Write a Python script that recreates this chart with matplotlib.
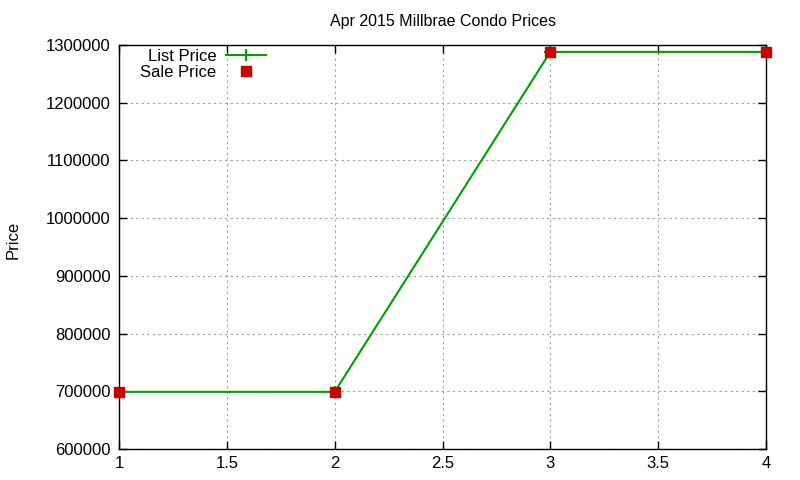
import matplotlib
matplotlib.use("Agg")
import matplotlib.pyplot as plt
from matplotlib.ticker import MultipleLocator, FuncFormatter

plt.rcParams['font.family'] = ['Liberation Sans', 'DejaVu Sans']

x = [1, 2, 3, 4]
list_price = [699000, 699000, 1288000, 1288000]
sale_price = [699000, 699000, 1288000, 1288000]

fig = plt.figure(figsize=(8, 4.8), dpi=100)
ax = fig.add_axes([0.14875, 0.0646, 0.80875, 0.8417])

ax.plot(x, list_price, color='#00a000', lw=1.5, marker='+', ms=9, mew=1.5, label='List Price')
ax.plot(x, sale_price, ls='none', marker='s', color='#cc0000', ms=7.5, label='Sale Price', clip_on=False, zorder=5)

ax.set_xlim(1, 4)
ax.set_ylim(600000, 1300000)
ax.xaxis.set_major_locator(MultipleLocator(0.5))
ax.yaxis.set_major_locator(MultipleLocator(100000))
ax.xaxis.set_major_formatter(FuncFormatter(lambda v, p: '%g' % v))
ax.yaxis.set_major_formatter(FuncFormatter(lambda v, p: '%d' % v))
ax.tick_params(direction='in', top=True, right=True, length=6, width=1, labelsize=12, colors='black')
ax.tick_params(axis='x', pad=5)
ax.tick_params(axis='y', pad=6)
ax.grid(True, color='#a0a0a0', ls=(0, (2, 3)), lw=0.8)
for s in ax.spines.values():
    s.set_linewidth(1)

ax.set_title('Apr 2015 Millbrae Condo Prices', fontsize=11.5, pad=14)
fig.text(0.016, 0.5, 'Price', rotation=90, va='center', ha='center', fontsize=12)

ax.legend(loc='upper left', bbox_to_anchor=(0.02, 1.01), markerfirst=False, frameon=False,
          fontsize=12, handlelength=2.4, handletextpad=0.6, labelspacing=0.05, borderaxespad=0.1)

fig.savefig('out.png', dpi=100)
